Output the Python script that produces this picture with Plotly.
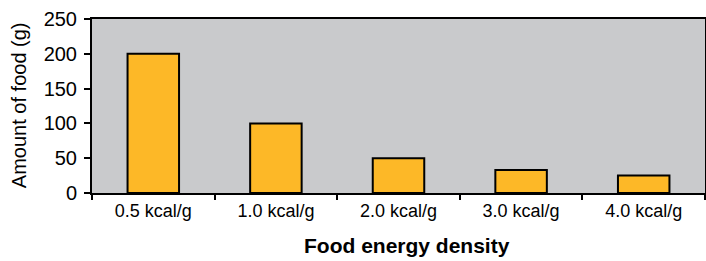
import plotly.graph_objects as go

categories = ["0.5 kcal/g", "1.0 kcal/g", "2.0 kcal/g", "3.0 kcal/g", "4.0 kcal/g"]
amount_g = [200, 100, 50, 33, 25]
y_ticks = [0, 50, 100, 150, 200, 250]

FONT = "Liberation Sans, Arial, sans-serif"

fig = go.Figure(
    go.Bar(
        x=categories,
        y=amount_g,
        marker=dict(color="#FDB827", line=dict(color="#000000", width=2)),
    )
)

fig.update_layout(
    width=706,
    height=261,
    margin=dict(l=92, r=1, t=19, b=68, autoexpand=False),
    paper_bgcolor="#FFFFFF",
    plot_bgcolor="#C9CACC",
    bargap=0.58,
    showlegend=False,
    font=dict(family=FONT, color="#000000"),
)

fig.update_xaxes(
    type="category",
    tickson="boundaries",
    ticks="outside",
    ticklen=5,
    tickwidth=1.5,
    tickcolor="#000000",
    showline=True,
    linecolor="#000000",
    linewidth=2,
    mirror=True,
    showgrid=False,
    automargin=False,
    tickfont=dict(size=18, family=FONT),
)

fig.update_yaxes(
    range=[0, 250],
    tickvals=y_ticks,
    ticks="outside",
    ticklen=6,
    tickwidth=1.5,
    tickcolor="#000000",
    showline=True,
    linecolor="#000000",
    linewidth=2,
    mirror=True,
    showgrid=False,
    zeroline=False,
    automargin=False,
    ticklabelstandoff=3,
    tickfont=dict(size=20, family=FONT),
)

fig.add_annotation(
    text="<b>Food energy density</b>",
    xref="paper", yref="paper", x=0.514, y=-0.302,
    xanchor="center", yanchor="middle", showarrow=False,
    font=dict(size=21, family=FONT, color="#000000"),
)
fig.add_annotation(
    text="Amount of food (g)",
    xref="paper", yref="paper", x=-0.118, y=0.503,
    xanchor="center", yanchor="middle", textangle=-90, showarrow=False,
    font=dict(size=20, family=FONT, color="#000000"),
)

fig.write_html(
    "out.html",
    config={"displayModeBar": False},
    post_script="document.body.style.margin='0';document.body.style.overflow='hidden';",
)
